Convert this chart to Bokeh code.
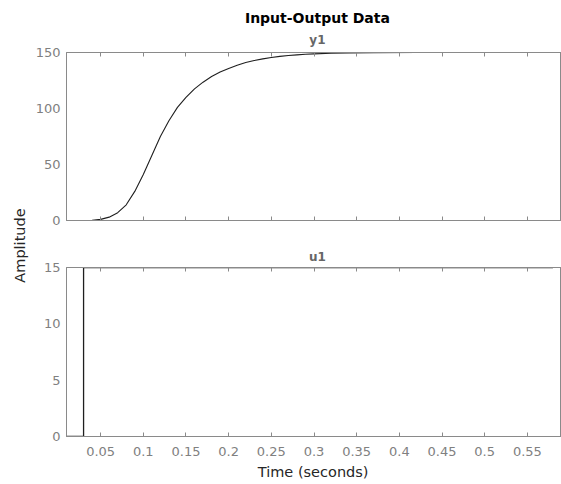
import math
from bokeh.plotting import figure
from bokeh.models import Range1d, LinearAxis, FixedTicker, Label
from bokeh.layouts import row, column
from bokeh.embed import file_html
from bokeh.resources import INLINE

# ---- data ----
y1_time = [0.01, 0.02, 0.03, 0.04, 0.05, 0.06, 0.07, 0.08, 0.09, 0.10,
           0.11, 0.12, 0.13, 0.14, 0.15, 0.16, 0.17, 0.18, 0.19, 0.20,
           0.21, 0.22, 0.23, 0.24, 0.25, 0.26, 0.27, 0.28, 0.29, 0.30,
           0.32, 0.34, 0.37, 0.42, 0.48, 0.58]
y1_vals = [0.0, 0.0, 0.0, 0.2, 1.0, 3.0, 7.0, 14.0, 26.0, 41.0,
           58.0, 75.0, 89.0, 101.0, 110.0, 117.5, 123.5, 128.5, 132.5, 135.8,
           138.6, 141.0, 142.8, 144.3, 145.5, 146.5, 147.3, 147.9, 148.4, 148.8,
           149.3, 149.6, 149.8, 149.95, 150.0, 150.0]

u1_time = [0.01, 0.02, 0.03, 0.58]
u1_vals = [0.0, 0.0, 15.0, 15.0]

x_ticks = [0.05, 0.1, 0.15, 0.2, 0.25, 0.3, 0.35, 0.4, 0.45, 0.5, 0.55]
x_tick_labels = ["0.05", "0.1", "0.15", "0.2", "0.25", "0.3", "0.35",
                 "0.4", "0.45", "0.5", "0.55"]
y1_ticks = [0, 50, 100, 150]
u1_ticks = [0, 5, 10, 15]

title_text = "Input-Output Data"
y1_name = "y1"
u1_name = "u1"
x_label = "Time (seconds)"
y_label = "Amplitude"

# ---- styles ----
FONT = "DejaVu Sans"
LINE_GRAY = "#8a8a8a"
TEXT_GRAY = "#808080"
DARK = "#262626"
DATA = "#1f1f1f"

LEFT_W = 30
MAIN_W = 531
BORDER_L = 36

x_range = Range1d(0.01, 0.59)


def style_x_axis(ax, labels):
    ax.ticker = FixedTicker(ticks=x_ticks)
    ax.axis_line_color = LINE_GRAY
    ax.major_tick_line_color = LINE_GRAY
    ax.major_tick_in = 4
    ax.major_tick_out = 0
    ax.minor_tick_line_color = None
    ax.major_label_text_font = FONT
    ax.major_label_text_font_size = "13px"
    if labels:
        ax.major_label_overrides = {t: s for t, s in zip(x_ticks, x_tick_labels)}
        ax.major_label_text_color = TEXT_GRAY
        ax.major_label_standoff = 10
    else:
        ax.major_label_text_color = None
        ax.major_label_standoff = 0


def style_y_axis(ax, ticks):
    ax.ticker = FixedTicker(ticks=ticks)
    ax.axis_line_color = LINE_GRAY
    ax.major_tick_line_color = None
    ax.major_tick_in = 0
    ax.major_tick_out = 0
    ax.minor_tick_line_color = None
    ax.major_label_text_font = FONT
    ax.major_label_text_font_size = "13px"
    ax.major_label_text_color = TEXT_GRAY
    ax.major_label_standoff = 6


def make_panel(height, top, bottom, y_range, ticks, labels):
    p = figure(width=MAIN_W, height=height, x_range=x_range, y_range=y_range,
               output_backend="svg", toolbar_location=None,
               min_border_left=BORDER_L, min_border_right=0,
               min_border_top=top, min_border_bottom=bottom)
    p.grid.visible = False
    p.outline_line_color = LINE_GRAY
    p.outline_line_width = 1
    style_x_axis(p.xaxis[0], labels)
    style_y_axis(p.yaxis[0], ticks)
    top_ax = LinearAxis()
    style_x_axis(top_ax, False)
    p.add_layout(top_ax, "above")
    return p


def make_strip(height):
    s = figure(width=MAIN_W, height=height, x_range=x_range,
               y_range=Range1d(0, height),
               output_backend="svg", toolbar_location=None,
               x_axis_type=None, y_axis_type=None,
               min_border_left=BORDER_L, min_border_right=0,
               min_border_top=0, min_border_bottom=0)
    s.outline_line_color = None
    s.grid.visible = False
    return s


# header with the title and the y1 channel name
header = make_strip(47)
header.add_layout(Label(x=0.304, y=29.2, text=title_text,
                        text_align="center", text_baseline="middle",
                        text_font=FONT, text_font_style="bold",
                        text_font_size="14px", text_color="#000000"))
header.add_layout(Label(x=0.304, y=7.6, text=y1_name,
                        text_align="center", text_baseline="middle",
                        text_font=FONT, text_font_style="bold",
                        text_font_size="12px", text_color="#666666"))

top = make_panel(183, 5, 10, Range1d(0, 150), y1_ticks, False)
top.line(y1_time, y1_vals, line_color=DATA, line_width=1.1)

mid = make_strip(32)
mid.add_layout(Label(x=0.304, y=5.5, text=u1_name,
                     text_align="center", text_baseline="middle",
                     text_font=FONT, text_font_style="bold",
                     text_font_size="12px", text_color="#666666"))

bottom = make_panel(200, 5, 26, Range1d(0, 15), u1_ticks, True)
bottom.step(u1_time, u1_vals, mode="after", line_color=DATA, line_width=1.3)

footer = make_strip(22)
footer.add_layout(Label(x=0.299, y=12.6, text=x_label,
                        text_align="center", text_baseline="middle",
                        text_font=FONT, text_font_size="14.5px",
                        text_color=DARK))

lab = figure(width=LEFT_W, height=484, x_range=Range1d(0, 1), y_range=Range1d(0, 1),
             output_backend="svg", toolbar_location=None,
             x_axis_type=None, y_axis_type=None,
             min_border_left=0, min_border_right=0,
             min_border_top=0, min_border_bottom=0)
lab.outline_line_color = None
lab.grid.visible = False
lab.add_layout(Label(x=19 / 30, y=1 - 245 / 484, text=y_label, angle=math.pi / 2,
                     text_align="center", text_baseline="middle",
                     text_font=FONT, text_font_size="14.5px", text_color=DARK))

layout = row(lab, column(header, top, mid, bottom, footer))
open("out.html", "w").write(file_html(layout, INLINE))
